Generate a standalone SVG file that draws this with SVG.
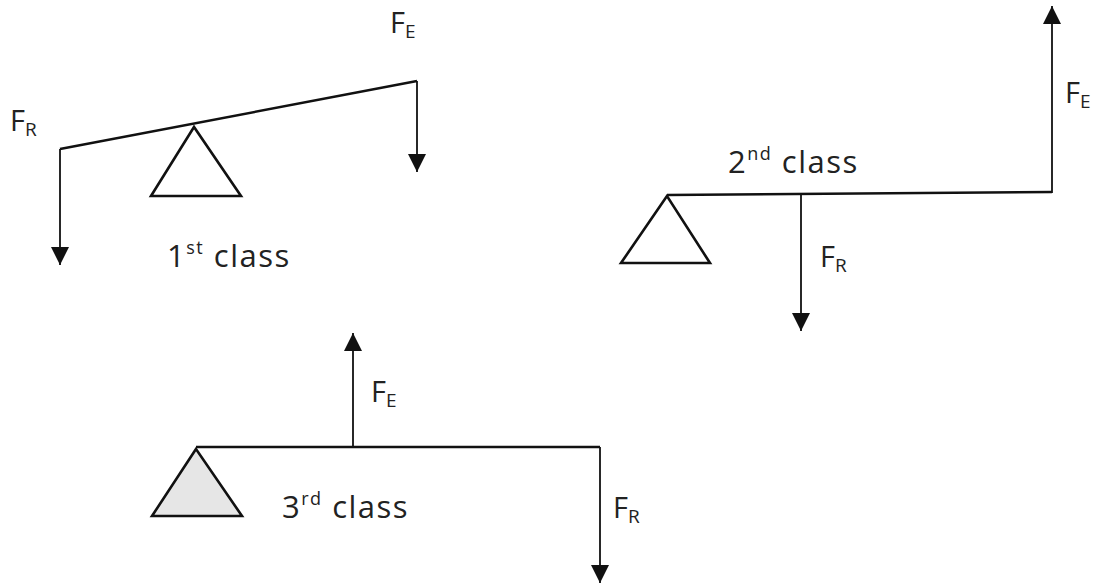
<svg xmlns="http://www.w3.org/2000/svg" width="1102" height="584" viewBox="0 0 1102 584">
<style>
.beam{fill:none;stroke:#111;stroke-width:2.4}
.force{fill:none;stroke:#111;stroke-width:1.8;marker-end:url(#ah)}
.fulcrum{fill:#fff;stroke:#111;stroke-width:2.6;stroke-linejoin:miter}
.fulcrum.shaded{fill:#e6e6e6}
text{font-family:"Open Sans","DejaVu Sans",sans-serif;fill:#222}
.lbl{font-size:29px}
.cls{font-size:31px;letter-spacing:1.5px}
.sub{font-size:19px}
.sup{font-size:18px}
</style>
<defs>
<marker id="ah" viewBox="0 0 18 18" markerWidth="18" markerHeight="18" refX="18" refY="9" orient="auto" markerUnits="userSpaceOnUse">
<path d="M0,0 L18,9 L0,18 z" fill="#111"/>
</marker>
</defs>
<rect width="1102" height="584" fill="#fff"/>
<g id="connectors">
<line class="force" x1="60" y1="149" x2="60" y2="265"/>
<line class="force" x1="417" y1="81" x2="417" y2="172"/>
<line class="force" x1="1052" y1="193" x2="1052" y2="6"/>
<line class="force" x1="801" y1="195" x2="801" y2="331"/>
<line class="force" x1="353" y1="447" x2="353" y2="333"/>
<line class="force" x1="600" y1="447" x2="600" y2="583"/>
</g>
<g id="lever1">
<line class="beam" x1="60" y1="149" x2="417" y2="81"/>
<polygon class="fulcrum" points="194,127 151,196 241,196"/>
<text class="lbl" x="10" y="131">F<tspan class="sub" dy="5">R</tspan></text>
<text class="lbl" x="390" y="33">F<tspan class="sub" dy="5">E</tspan></text>
<text class="cls" x="167" y="267">1<tspan class="sup" dy="-13">st</tspan><tspan dy="13"> class</tspan></text>
</g>
<g id="lever2">
<line class="beam" x1="667" y1="195" x2="1052" y2="192"/>
<polygon class="fulcrum" points="667,196 621,263 710,263"/>
<text class="lbl" x="1065" y="103">F<tspan class="sub" dy="5">E</tspan></text>
<text class="lbl" x="820" y="267">F<tspan class="sub" dy="5">R</tspan></text>
<text class="cls" x="728" y="173">2<tspan class="sup" dy="-13">nd</tspan><tspan dy="13"> class</tspan></text>
</g>
<g id="lever3">
<line class="beam" x1="196" y1="447" x2="600" y2="447"/>
<polygon class="fulcrum shaded" points="196,449 152,516 242,516"/>
<text class="lbl" x="371" y="402">F<tspan class="sub" dy="5">E</tspan></text>
<text class="lbl" x="613" y="518">F<tspan class="sub" dy="5">R</tspan></text>
<text class="cls" x="282" y="518">3<tspan class="sup" dy="-13">rd</tspan><tspan dy="13"> class</tspan></text>
</g>
</svg>
